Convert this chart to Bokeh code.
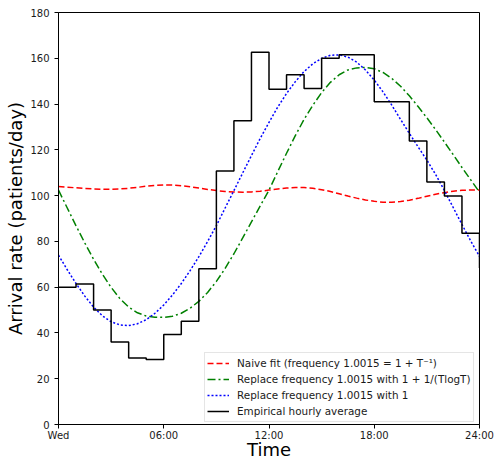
from bokeh.plotting import figure
from bokeh.models import FixedTicker, Legend, LegendItem, Range1d
from bokeh.embed import file_html
from bokeh.resources import INLINE

# ---- data ----
hours = [0, 1, 2, 3, 4, 5, 6, 7, 8, 9, 10, 11, 12,
         13, 14, 15, 16, 17, 18, 19, 20, 21, 22, 23, 24]
hourly_avg = [60.0, 61.4, 50.0, 36.0, 29.0, 28.4, 39.3, 45.1, 68.1, 110.8, 132.7, 162.6, 146.5,
              152.8, 146.8, 160.0, 161.5, 161.5, 141.0, 141.0, 123.9, 106.0, 99.8, 83.6, 68.4]

t = [0.0, 0.5, 1.0, 1.5, 2.0, 2.5, 3.0, 3.5, 4.0, 4.5, 5.0, 5.5, 6.0, 6.5, 7.0, 7.5,
     8.0, 8.5, 9.0, 9.5, 10.0, 10.5, 11.0, 11.5, 12.0, 12.5, 13.0, 13.5, 14.0, 14.5,
     15.0, 15.5, 16.0, 16.5, 17.0, 17.5, 18.0, 18.5, 19.0, 19.5, 20.0, 20.5, 21.0,
     21.5, 22.0, 22.5, 23.0, 23.5, 24.0]

naive_fit = [104.0, 103.7, 103.4, 103.1, 102.9, 102.8, 102.8, 102.9, 103.2, 103.6,
             104.1, 104.5, 104.7, 104.6, 104.3, 103.9, 103.3, 102.7, 102.2, 101.8,
             101.6, 101.5, 101.6, 101.9, 102.4, 102.9, 103.3, 103.5, 103.5, 103.2,
             102.6, 101.8, 100.8, 99.8, 98.9, 98.1, 97.5, 97.1, 97.1, 97.4,
             98.0, 98.8, 99.7, 100.6, 101.3, 101.9, 102.3, 102.5, 102.5]

tlogt_fit = [102.4, 94.6, 86.8, 79.3, 72.2, 65.7, 59.9, 55.0, 51.3, 48.8,
             47.4, 46.9, 46.8, 47.3, 48.6, 50.8, 53.8, 57.7, 62.5, 68.2,
             74.6, 81.5, 88.5, 95.5, 102.4, 110.5, 118.5, 126.2, 133.3, 139.5,
             145.0, 149.5, 152.8, 154.9, 155.8, 156.0, 155.4, 153.8, 151.2, 147.8,
             143.6, 138.9, 134.0, 128.8, 123.4, 117.9, 112.3, 106.9, 101.5]

freq1_fit = [74.0, 67.6, 61.6, 56.1, 51.3, 47.5, 44.9, 43.5, 43.2, 44.0,
             45.8, 48.6, 52.2, 56.6, 61.6, 67.2, 73.3, 79.9, 86.9, 94.6,
             102.2, 109.9, 117.5, 125.0, 132.0, 138.7, 144.6, 149.8, 154.2, 157.6,
             160.0, 161.3, 161.5, 160.5, 158.3, 154.9, 150.5, 145.3, 139.5, 133.3,
             127.2, 121.3, 115.5, 109.2, 102.2, 94.8, 87.4, 80.2, 73.5]

x_ticks = [0, 6, 12, 18, 24]
x_tick_labels = ["Wed", "06:00", "12:00", "18:00", "24:00"]
y_ticks = [0, 20, 40, 60, 80, 100, 120, 140, 160, 180]

labels = ["Naive fit (frequency 1.0015 = 1 + T\u207b\u00b9)",
          "Replace frequency 1.0015 with 1 + 1/(TlogT)",
          "Replace frequency 1.0015 with 1",
          "Empirical hourly average"]

FONT = "DejaVu Sans"

p = figure(width=496, height=462, output_backend="svg", toolbar_location=None,
           x_range=Range1d(0, 24), y_range=Range1d(0, 180),
           min_border_left=58, min_border_right=17, min_border_top=12, min_border_bottom=37)

p.background_fill_color = "white"
p.border_fill_color = "white"
p.outline_line_color = "black"
p.outline_line_width = 1
p.xgrid.visible = False
p.ygrid.visible = False

r_naive = p.line(t, naive_fit, line_color="#ff0000", line_width=1.5, line_dash="6 3")
r_tlogt = p.line(t, tlogt_fit, line_color="#008000", line_width=1.5, line_dash="8 3 2 3")
r_freq1 = p.line(t, freq1_fit, line_color="#0000ff", line_width=1.5, line_dash="2 2")
r_emp = p.step(hours, hourly_avg, mode="after", line_color="black", line_width=1.5)

for ax in (p.xaxis[0], p.yaxis[0]):
    ax.axis_line_color = "black"
    ax.major_tick_line_color = "black"
    ax.minor_tick_line_color = None
    ax.major_tick_out = 4
    ax.major_tick_in = 0
    ax.major_label_text_font = FONT
    ax.major_label_text_font_size = "10px"
    ax.major_label_text_color = "#1a1a1a"
    ax.axis_label_text_font = FONT
    ax.axis_label_text_font_size = "18px"
    ax.axis_label_text_font_style = "normal"
    ax.axis_label_text_color = "black"

p.xaxis[0].ticker = FixedTicker(ticks=x_ticks)
p.xaxis[0].major_label_overrides = {k: v for k, v in zip(x_ticks, x_tick_labels)}
p.xaxis[0].axis_label = "Time"
p.xaxis[0].major_label_standoff = 1
p.xaxis[0].axis_label_standoff = -5

p.yaxis[0].ticker = FixedTicker(ticks=y_ticks)
p.yaxis[0].axis_label = "Arrival rate (patients/day)"
p.yaxis[0].major_label_standoff = 5
p.yaxis[0].axis_label_standoff = 1

legend = Legend(items=[LegendItem(label=labels[0], renderers=[r_naive]),
                       LegendItem(label=labels[1], renderers=[r_tlogt]),
                       LegendItem(label=labels[2], renderers=[r_freq1]),
                       LegendItem(label=labels[3], renderers=[r_emp])],
                location=(146, 2))
legend.margin = 0
legend.padding = 2
legend.spacing = 0
legend.glyph_height = 16
legend.label_height = 16
legend.glyph_width = 22
legend.label_standoff = 8
legend.label_text_font = FONT
legend.label_text_font_size = "10.4px"
legend.label_text_color = "#1a1a1a"
legend.border_line_color = "#cccccc"
legend.border_line_width = 1
legend.background_fill_color = "white"
legend.background_fill_alpha = 0.8
p.add_layout(legend, "center")

open("out.html", "w").write(file_html(p, INLINE))
